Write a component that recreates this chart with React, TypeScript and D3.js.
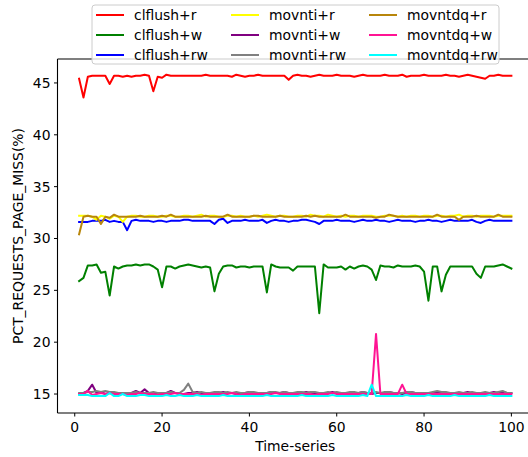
import * as d3 from "d3";

// x values: 1..100 time-series samples
const timeSteps: number[] = Array.from({ length: 100 }, (_, i) => i + 1);

const clflushR = [
  45.4, 43.6, 45.6, 45.7, 45.7, 45.7, 45.7, 44.9, 45.7, 45.7,
  45.6, 45.7, 45.6, 45.7, 45.7, 45.8, 45.7, 44.2, 45.6, 45.5,
  45.8, 45.7, 45.7, 45.7, 45.7, 45.7, 45.7, 45.7, 45.7, 45.8,
  45.7, 45.7, 45.7, 45.7, 45.7, 45.6, 45.8, 45.7, 45.6, 45.7,
  45.7, 45.8, 45.7, 45.7, 45.7, 45.7, 45.7, 45.7, 45.3, 45.7,
  45.8, 45.7, 45.7, 45.6, 45.7, 45.8, 45.7, 45.7, 45.7, 45.8,
  45.7, 45.7, 45.7, 45.6, 45.7, 45.8, 45.7, 45.7, 45.7, 45.7,
  45.8, 45.7, 45.7, 45.7, 45.8, 45.6, 45.7, 45.7, 45.7, 45.8,
  45.7, 45.7, 45.7, 45.7, 45.8, 45.7, 45.7, 45.6, 45.7, 45.8,
  45.7, 45.6, 45.5, 45.4, 45.7, 45.7, 45.8, 45.7, 45.7, 45.7,
];

const clflushW = [
  25.9, 26.2, 27.4, 27.4, 27.5, 26.7, 26.8, 24.5, 27.3, 27.1,
  27.3, 27.4, 27.4, 27.5, 27.4, 27.5, 27.5, 27.3, 27.0, 25.3,
  27.3, 27.3, 27.1, 27.3, 27.4, 27.5, 27.4, 27.3, 27.2, 27.3,
  27.2, 24.9, 26.6, 27.3, 27.4, 27.4, 27.2, 27.3, 27.3, 27.2,
  27.3, 27.3, 27.3, 24.8, 27.5, 27.3, 27.2, 27.2, 27.2, 26.9,
  27.3, 27.3, 27.3, 27.3, 27.3, 22.8, 27.5, 27.2, 27.2, 27.2,
  27.3, 27.0, 27.3, 27.1, 27.3, 27.4, 27.3, 27.0, 26.0, 27.4,
  27.3, 27.3, 27.2, 27.4, 27.3, 27.3, 27.3, 27.4, 27.3, 26.8,
  24.0, 27.3, 27.3, 24.9, 26.5, 27.3, 27.3, 27.3, 27.3, 27.3,
  27.3, 26.6, 26.2, 27.3, 27.3, 27.3, 27.4, 27.5, 27.3, 27.1,
];

const clflushRW = [
  31.6, 31.6, 31.6, 31.7, 31.7, 31.7, 31.8, 31.6, 31.7, 31.6,
  31.6, 30.8, 31.7, 31.8, 31.7, 31.7, 31.7, 31.6, 31.7, 31.7,
  31.6, 31.7, 31.7, 31.7, 31.8, 31.8, 31.7, 31.7, 31.7, 31.7,
  31.7, 31.4, 31.8, 31.9, 31.5, 31.7, 31.7, 31.7, 31.8, 31.7,
  31.7, 31.7, 31.8, 31.5, 31.7, 31.8, 31.7, 31.7, 31.6, 31.7,
  31.7, 31.8, 31.8, 31.7, 31.6, 31.4, 31.7, 31.7, 31.7, 31.8,
  31.7, 31.7, 31.7, 31.6, 31.7, 31.8, 31.7, 31.7, 31.8, 31.7,
  31.7, 31.6, 31.7, 31.8, 31.7, 31.7, 31.7, 31.6, 31.7, 31.7,
  31.8, 31.7, 31.7, 31.6, 31.7, 31.8, 31.7, 31.7, 31.7, 31.7,
  31.8, 31.6, 31.5, 31.7, 31.8, 31.7, 31.7, 31.7, 31.7, 31.7,
];

const movntiR = [
  32.2, 32.2, 32.2, 32.1, 31.8, 32.2, 32.1, 31.9, 32.2, 32.1,
  31.6, 32.1, 32.2, 32.2, 32.1, 32.1, 32.2, 32.2, 32.1, 32.1,
  32.2, 32.2, 32.1, 32.1, 32.2, 32.2, 32.1, 32.2, 32.3, 32.1,
  32.2, 32.2, 32.1, 32.1, 32.2, 32.2, 32.1, 32.2, 32.1, 32.1,
  32.2, 32.1, 32.2, 32.3, 32.2, 32.1, 32.2, 32.2, 32.1, 32.1,
  32.2, 32.2, 32.1, 32.3, 32.2, 32.2, 32.1, 32.3, 32.2, 32.1,
  32.2, 32.1, 32.2, 32.2, 32.1, 32.2, 32.2, 32.2, 32.1, 32.1,
  32.2, 32.2, 32.2, 32.1, 32.2, 32.1, 32.2, 32.2, 32.1, 32.2,
  32.2, 32.1, 32.2, 32.2, 32.1, 32.2, 32.2, 32.3, 32.1, 32.2,
  32.2, 32.1, 32.2, 32.2, 32.2, 32.1, 32.2, 32.2, 32.2, 32.2,
];

const movntiW = [
  15.0, 15.1, 15.3, 15.9, 15.1, 15.2, 15.0, 15.1, 15.1, 15.1,
  15.0, 15.1, 15.1, 15.3, 15.1, 15.45, 15.1, 15.0, 15.1, 15.1,
  15.1, 15.3, 15.1, 15.0, 15.0, 15.1, 15.1, 15.2, 15.1, 15.1,
  15.0, 15.1, 15.1, 15.2, 15.1, 15.1, 15.0, 15.1, 15.1, 15.2,
  15.1, 15.1, 15.0, 15.1, 15.2, 15.1, 15.1, 15.2, 15.1, 15.1,
  15.0, 15.1, 15.2, 15.1, 15.1, 15.1, 15.0, 15.1, 15.2, 15.1,
  15.1, 15.1, 15.1, 15.0, 15.1, 15.2, 15.1, 15.0, 15.1, 15.1,
  15.1, 15.2, 15.1, 15.1, 15.0, 15.1, 15.2, 15.1, 15.1, 15.1,
  15.0, 15.1, 15.1, 15.2, 15.1, 15.1, 15.0, 15.1, 15.1, 15.2,
  15.1, 15.1, 15.0, 15.1, 15.1, 15.2, 15.1, 15.2, 15.1, 15.1,
];

const movntiRW = [
  15.1, 15.1, 15.2, 15.2, 15.3, 15.2, 15.3, 15.2, 15.2, 15.1,
  15.1, 15.1, 15.1, 15.2, 15.1, 15.1, 15.1, 15.2, 15.1, 15.1,
  15.1, 15.2, 15.1, 15.1, 15.4, 16.0, 15.2, 15.1, 15.2, 15.1,
  15.1, 15.2, 15.2, 15.1, 15.2, 15.1, 15.2, 15.1, 15.1, 15.2,
  15.2, 15.1, 15.1, 15.1, 15.2, 15.2, 15.1, 15.2, 15.1, 15.1,
  15.2, 15.2, 15.1, 15.2, 15.2, 15.1, 15.1, 15.2, 15.1, 15.2,
  15.1, 15.1, 15.2, 15.2, 15.1, 15.2, 15.1, 15.1, 15.2, 15.1,
  15.2, 15.2, 15.1, 15.1, 15.1, 15.2, 15.2, 15.1, 15.1, 15.1,
  15.1, 15.2, 15.3, 15.2, 15.2, 15.1, 15.1, 15.2, 15.1, 15.1,
  15.2, 15.1, 15.1, 15.2, 15.1, 15.1, 15.2, 15.3, 15.1, 15.1,
];

const movntdqR = [
  30.4, 32.1, 32.2, 32.1, 32.1, 31.4, 32.1, 32.0, 32.3, 32.1,
  32.1, 32.1, 32.1, 32.1, 32.2, 32.1, 32.1, 32.1, 32.1, 32.2,
  32.1, 32.3, 32.1, 32.1, 32.1, 32.1, 32.1, 32.1, 32.1, 32.2,
  32.1, 32.1, 32.1, 32.1, 32.3, 32.1, 32.1, 32.1, 32.1, 32.1,
  32.2, 32.2, 32.1, 32.1, 32.1, 32.1, 32.2, 32.1, 32.1, 32.1,
  32.1, 32.1, 32.2, 32.1, 32.2, 32.1, 32.1, 32.1, 32.1, 32.1,
  32.1, 32.3, 32.1, 32.1, 32.1, 32.1, 32.1, 32.1, 32.0, 32.1,
  32.1, 32.3, 32.2, 32.1, 32.1, 32.1, 32.1, 32.1, 32.1, 32.1,
  32.1, 32.1, 32.3, 32.1, 32.1, 32.1, 32.1, 31.8, 32.1, 32.1,
  32.1, 32.2, 32.1, 32.1, 32.1, 32.1, 32.3, 32.1, 32.1, 32.1,
];

const movntdqW = [
  15.0, 15.0, 15.3, 14.9, 15.0, 15.1, 15.0, 15.1, 15.0, 15.0,
  15.0, 14.9, 15.0, 15.0, 15.1, 15.0, 15.0, 15.0, 14.9, 15.0,
  15.0, 15.0, 15.1, 15.0, 15.0, 15.0, 15.0, 15.0, 14.9, 15.0,
  15.0, 15.0, 15.0, 15.0, 15.0, 15.1, 15.0, 14.9, 15.0, 15.0,
  15.0, 15.0, 15.0, 15.0, 15.0, 15.1, 15.0, 15.0, 15.0, 15.0,
  15.0, 15.0, 15.0, 15.0, 14.9, 15.0, 15.0, 15.0, 15.1, 15.0,
  15.0, 15.0, 15.0, 15.0, 15.0, 15.0, 15.0, 15.0, 20.8, 15.0,
  15.0, 15.0, 15.0, 15.0, 15.9, 15.0, 15.0, 15.0, 15.0, 15.0,
  15.0, 15.0, 15.0, 15.0, 15.0, 15.0, 15.0, 15.0, 15.0, 15.0,
  15.0, 15.0, 15.0, 15.0, 15.0, 15.0, 15.0, 15.0, 15.0, 15.0,
];

const movntdqRW = [
  14.9, 14.9, 14.9, 14.8, 14.8, 14.8, 14.8, 15.1, 14.8, 14.8,
  15.0, 14.8, 14.8, 14.8, 14.9, 14.9, 14.8, 14.8, 14.8, 14.8,
  14.9, 14.8, 14.8, 14.9, 14.8, 14.8, 14.8, 14.9, 14.8, 14.8,
  14.8, 14.8, 14.8, 14.9, 14.8, 14.8, 14.8, 14.8, 14.8, 14.8,
  14.8, 14.8, 14.8, 14.9, 14.8, 14.8, 14.8, 14.8, 14.8, 14.8,
  14.8, 14.9, 14.8, 14.8, 14.8, 14.8, 14.8, 14.8, 14.9, 14.8,
  14.8, 14.8, 14.8, 14.8, 14.8, 14.9, 14.8, 15.9, 14.8, 14.8,
  14.8, 14.8, 14.8, 14.8, 14.8, 14.9, 14.8, 14.8, 14.8, 14.8,
  14.9, 14.8, 14.8, 14.8, 14.8, 14.8, 14.9, 14.8, 14.8, 14.8,
  14.8, 14.8, 14.8, 14.8, 14.9, 14.8, 14.8, 14.8, 14.8, 14.8,
];

const seriesNames = [
  "clflush+r", "clflush+w", "clflush+rw",
  "movnti+r", "movnti+w", "movnti+rw",
  "movntdq+r", "movntdq+w", "movntdq+rw",
];
const seriesValues = [
  clflushR, clflushW, clflushRW,
  movntiR, movntiW, movntiRW,
  movntdqR, movntdqW, movntdqRW,
];
const seriesColors = [
  "#ff0000", "#008000", "#0000ff",
  "#ffff00", "#800080", "#808080",
  "#b8860b", "#ff1493", "#00ffff",
];

const xTicks = [0, 20, 40, 60, 80, 100];
const yTicks = [15, 20, 25, 30, 35, 40, 45];

const W = 528;
const H = 457;
const FONT = "'DejaVu Sans', sans-serif";
const FS = 13.9;

export default function App() {
  const x = d3.scaleLinear().domain([-3.95, 104.95]).range([57.5, 533]);
  const y = d3.scaleLinear().domain([13.17, 47.31]).range([413, 59]);

  const line = d3
    .line<number>()
    .x((_, i) => x(timeSteps[i]))
    .y((d) => y(d));

  const [x0, x1] = x.range();
  const [yBottom, yTop] = y.range();

  const legX = 92;
  const legY = 5;
  const colW = [0, 135, 273];

  return (
    <svg
      width={W}
      height={H}
      style={{ position: "fixed", left: 0, top: 0, background: "#fff" }}
      fontFamily={FONT}
    >
      <rect width={W} height={H} fill="#fff" />

      {/* lines */}
      <g fill="none" strokeWidth={2} strokeLinejoin="round" strokeLinecap="square">
        {seriesValues.map((vals, k) => (
          <path key={seriesNames[k]} d={line(vals) ?? ""} stroke={seriesColors[k]} />
        ))}
      </g>

      {/* spines */}
      <g stroke="#000" strokeWidth={1.1} fill="none">
        <line x1={x0} x2={x0} y1={yTop} y2={yBottom} />
        <line x1={x0} x2={x1} y1={yBottom} y2={yBottom} />
        <line x1={x0} x2={x1} y1={yTop} y2={yTop} />
        <line x1={x1} x2={x1} y1={yTop} y2={yBottom} />
      </g>

      {/* x ticks */}
      <g fontSize={FS} textAnchor="middle" fill="#000">
        {xTicks.map((t) => (
          <g key={t} transform={`translate(${x(t)},${yBottom})`}>
            <line y2={3.5} stroke="#000" strokeWidth={1} />
            <text y={18.5}>{t}</text>
          </g>
        ))}
      </g>

      {/* y ticks */}
      <g fontSize={FS} textAnchor="end" fill="#000">
        {yTicks.map((t) => (
          <g key={t} transform={`translate(${x0},${y(t)})`}>
            <line x2={-3.5} stroke="#000" strokeWidth={1} />
            <text x={-7} dy="0.35em">{t}</text>
          </g>
        ))}
      </g>

      {/* axis titles */}
      <text x={(x0 + x1) / 2} y={451} fontSize={FS} textAnchor="middle">
        Time-series
      </text>
      <text
        transform={`translate(23,${(yBottom + yTop) / 2}) rotate(-90)`}
        fontSize={FS}
        textAnchor="middle"
      >
        PCT_REQUESTS_PAGE_MISS(%)
      </text>

      {/* legend */}
      <rect
        x={legX}
        y={legY}
        width={407}
        height={59}
        rx={3}
        fill="#fff"
        fillOpacity={0.8}
        stroke="#cccccc"
        strokeWidth={1}
      />
      {seriesNames.map((name, k) => {
        const col = Math.floor(k / 3);
        const row = k % 3;
        const lx = legX + 4 + colW[col];
        const ly = legY + 10 + row * 20;
        return (
          <g key={name}>
            <line x1={lx} x2={lx + 28} y1={ly} y2={ly} stroke={seriesColors[k]} strokeWidth={2} />
            <text x={lx + 38} y={ly} dy="0.35em" fontSize={FS}>
              {name}
            </text>
          </g>
        );
      })}
    </svg>
  );
}
